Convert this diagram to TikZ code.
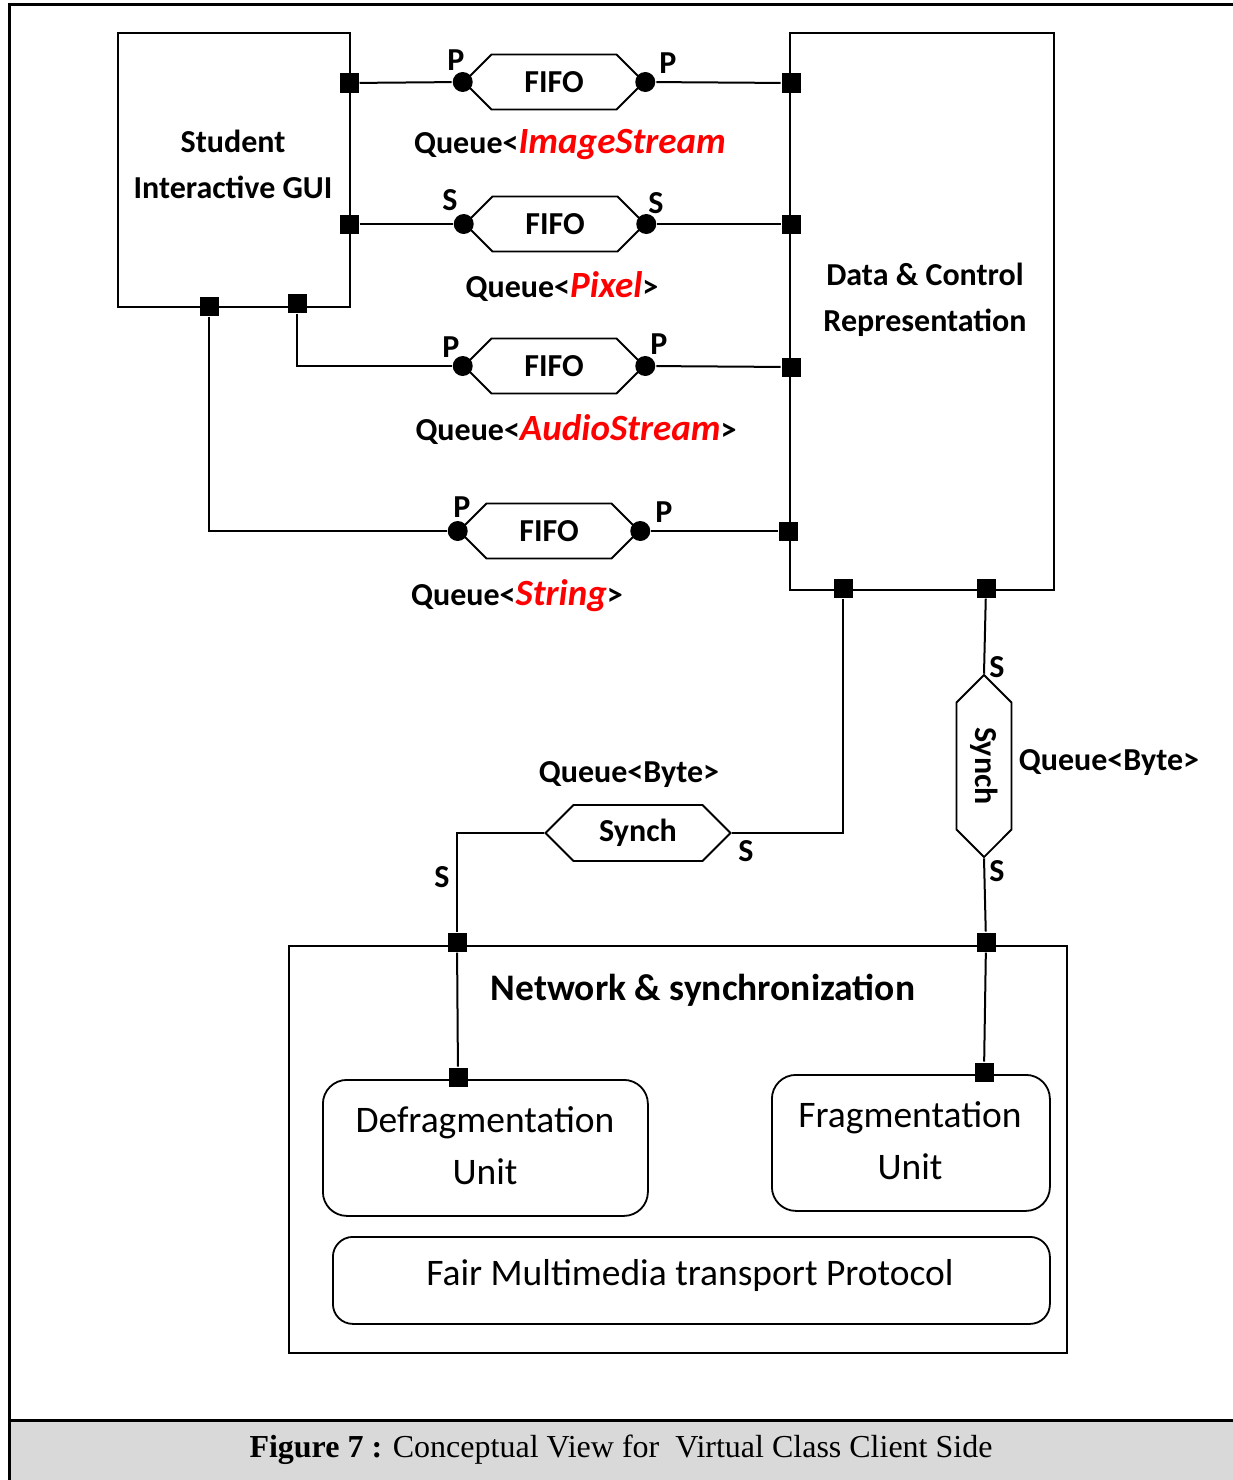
\documentclass[tikz,border=0pt]{standalone}
\usepackage{fontspec}
\setmainfont{Carlito}
\newfontfamily\capfont{Liberation Serif}
\usetikzlibrary{shapes.symbols}
\definecolor{capgray}{RGB}{217,217,217}
\definecolor{qred}{RGB}{255,0,0}
\newcommand\lblf{\fontsize{32}{46}\selectfont\bfseries}
\newcommand\redf{\fontsize{37}{40}\selectfont\bfseries\itshape\color{qred}}
\newcommand\unitf{\fontsize{37.5}{52}\selectfont}
\begin{document}
\begin{tikzpicture}[x=1pt,y=-1pt,line width=2pt,
  port/.style={fill=black,draw=none,minimum size=19pt,inner sep=0pt},
  pdot/.style={circle,fill=black,draw=none,minimum size=20pt,inner sep=0pt},
  box/.style={draw,line width=2pt,inner sep=0pt},
  ubox/.style={draw,rounded corners=24pt,line width=1.8pt,inner sep=0pt},
  hexa/.style={signal,signal to=west and east,signal pointer angle=90,draw,line width=1.8pt,minimum width=180pt,minimum height=55pt,inner sep=0pt,font=\lblf},
  lbl/.style={font=\lblf,inner sep=0pt,align=center},
  conn/.style={line width=2pt}
]
\useasboundingbox (0,0) rectangle (1233,1480);
% frame and caption bar
\fill[capgray] (10,1421) rectangle (1233,1480);
\draw[line width=3pt] (9,1480) -- (9,5) -- (1233,5);
\draw[line width=3pt] (9,1420) -- (1233,1420);
\node[inner sep=0pt] (cap) at (621,1450) {\capfont\fontsize{32}{38}\selectfont\textbf{Figure 7 :} Conceptual View for\ \ Virtual Class Client Side};

% main boxes
\node[box,anchor=north west,minimum width=232pt,minimum height=274pt] (gui) at (117,32) {};
\node[lbl] (guit) at (233,164) {Student\\Interactive GUI};
\node[box,anchor=north west,minimum width=264pt,minimum height=557pt] (dcr) at (789,32) {};
\node[lbl] (dcrt) at (925,300) {Data \& Control\\Representation};
\node[box,anchor=north west,minimum width=778pt,minimum height=407pt] (net) at (288,945) {};
\node[inner sep=0pt,font=\fontsize{37.5}{40}\selectfont\bfseries] (nett) at (703,990) {Network \& synchronization};
\node[ubox,anchor=north west,minimum width=325pt,minimum height=136pt] (dfg) at (322,1079) {};
\node[inner sep=0pt,align=center,font=\unitf] (dfgt) at (485,1146) {Defragmentation\\Unit};
\node[ubox,anchor=north west,minimum width=278pt,minimum height=136pt] (frg) at (771,1074) {};
\node[inner sep=0pt,align=center,font=\unitf] (frgt) at (910,1141) {Fragmentation\\Unit};
\node[ubox,rounded corners=20pt,anchor=north west,minimum width=717pt,minimum height=87pt] (fmp) at (332,1236) {};
\node[inner sep=0pt,font=\unitf] (fmpt) at (690,1275) {Fair Multimedia transport Protocol};

% FIFO hexagons
\node[hexa] (f1) at (554,82) {FIFO};
\node[hexa] (f2) at (555,224) {FIFO};
\node[hexa] (f3) at (554,366) {FIFO};
\node[hexa] (f4) at (549,531) {FIFO};
\foreach \i in {1,2,3,4}{
  \node[pdot] (f\i l) at (f\i.west) {};
  \node[pdot] (f\i r) at (f\i.east) {};
}
% Synch hexagons
\node[hexa,minimum width=185pt,minimum height=56pt] (sh) at (638,833) {Synch};
\node[hexa,rotate=-90,minimum width=182pt,minimum height=55pt] (sv) at (984,766) {Synch};

% ports
\node[port] (g1) at (349,83) {};
\node[port] (g2) at (349,224) {};
\node[port] (g3) at (209,306) {};
\node[port] (g4) at (297,303) {};
\node[port] (d1) at (791,83) {};
\node[port] (d2) at (791,224) {};
\node[port] (d3) at (791,367) {};
\node[port] (d4) at (788,531) {};
\node[port] (d5) at (843,588) {};
\node[port] (d6) at (986,588) {};
\node[port] (n1) at (457,942) {};
\node[port] (n2) at (986,942) {};
\node[port] (u1) at (458,1077) {};
\node[port] (u2) at (984,1072) {};

% connectors
\draw[conn] (g1) -- (f1l);
\draw[conn] (f1r) -- (d1);
\draw[conn] (g2) -- (f2l);
\draw[conn] (f2r) -- (d2);
\draw[conn] (g4) |- (f3l);
\draw[conn] (f3r) -- (d3);
\draw[conn] (g3) |- (f4l);
\draw[conn] (f4r) -- (d4);
\draw[conn] (d5) |- (sh.east);
\draw[conn] (sh.west) -| (n1);
\draw[conn] (d6) -- (sv.west);
\draw[conn] (sv.east) -- (n2);
\draw[conn] (n1) -- (u1);
\draw[conn] (n2) -- (u2);

% end labels
\node[lbl] (l1a) at (456,60) {P};
\node[lbl] (l1b) at (668,63) {P};
\node[lbl] (l2a) at (450,200) {S};
\node[lbl] (l2b) at (656,203) {S};
\node[lbl] (l3a) at (451,347) {P};
\node[lbl] (l3b) at (659,344) {P};
\node[lbl] (l4a) at (462,507) {P};
\node[lbl] (l4b) at (664,512) {P};
\node[lbl] (l5a) at (746,851) {S};
\node[lbl] (l5b) at (442,877) {S};
\node[lbl] (l6a) at (997,667) {S};
\node[lbl] (l6b) at (997,871) {S};

% queue labels
\node[lbl] (q1) at (570,145) {Queue<{\redf ImageStream}};
\node[lbl] (q2) at (562,287) {Queue<{\redf Pixel}>};
\node[lbl] (q3) at (576,430) {Queue<{\redf AudioStream}>};
\node[lbl] (q4) at (517,596) {Queue<{\redf String}>};
\node[lbl] (q5) at (629,775) {Queue<Byte>};
\node[lbl] (q6) at (1109,763) {Queue<Byte>};
\end{tikzpicture}
\end{document}
